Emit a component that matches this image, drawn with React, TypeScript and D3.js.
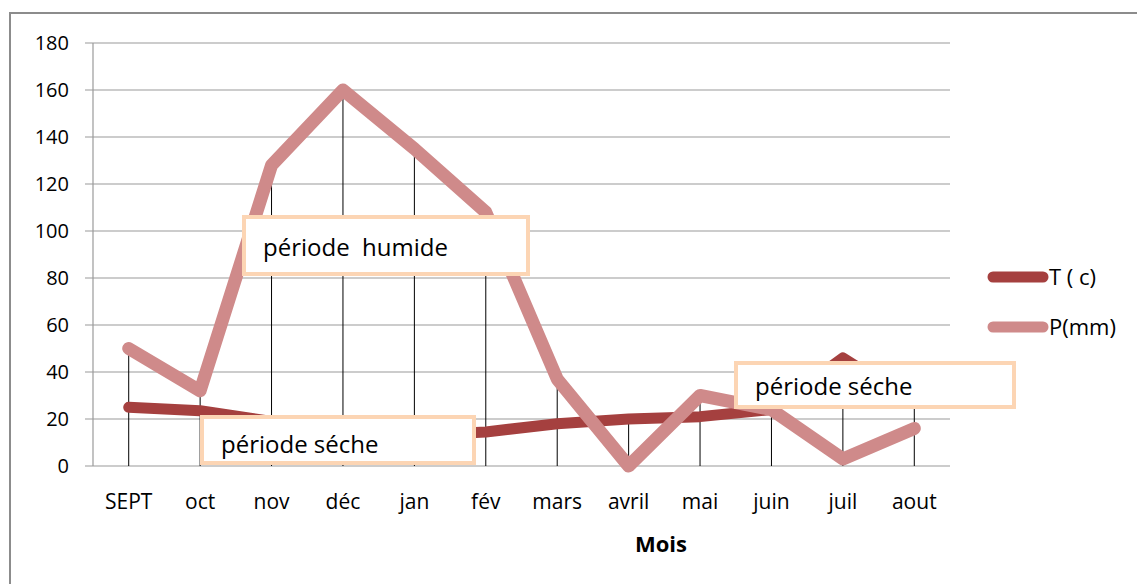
import React from "react";
import * as d3 from "d3";

const months = ["SEPT", "oct", "nov", "déc", "jan", "fév", "mars", "avril", "mai", "juin", "juil", "aout"];
const tempValues = [25, 23.5, 19, 15, 13, 14.5, 18, 20, 21, 24, 46, 27];
const precipValues = [50, 32, 128, 160, 135, 108, 37, 0, 30, 24, 3, 16];
const yTicks = [0, 20, 40, 60, 80, 100, 120, 140, 160, 180];
const seriesNames = ["T ( c)", "P(mm)"];
const annotations = [
  { text: "période  humide", month: "nov", value: 100 },
  { text: "période séche", month: "oct", value: 20 },
  { text: "période séche", month: "mai", value: 40 },
];

const W = 1137;
const H = 584;
const FONT = "'Open Sans', 'Liberation Sans', sans-serif";
const T_COLOR = "#A5403F";
const P_COLOR = "#CF8A8A";
const BOX_COLOR = "#FCD5B4";

export default function App() {
  const left = 93;
  const right = 950;
  const top = 43;
  const bottom = 466;

  const x = d3.scaleBand<string>().domain(months).range([left, right]);
  const y = d3.scaleLinear().domain([0, 180]).range([bottom, top]);
  const cx = (m: string) => (x(m) as number) + x.bandwidth() / 2;

  const line = d3
    .line<number>()
    .x((_, i) => cx(months[i]))
    .y((d) => y(d));

  const boxes = [
    { x0: 244, y0: 217, w: 284, h: 57, tx: 263, ty: 256 },
    { x0: 202, y0: 417, w: 272, h: 46, tx: 221, ty: 453 },
    { x0: 736, y0: 363, w: 278, h: 44, tx: 755, ty: 395 },
  ];

  return (
    <svg width={W} height={H} style={{ position: "absolute", left: 0, top: 0, background: "#fff" }}>
      <rect x={10} y={13} width={W + 20} height={H + 20} fill="#fff" stroke="#8c8c8c" strokeWidth={2} />
      {/* gridlines */}
      {yTicks.map((t) => (
        <g key={t}>
          <line x1={85} x2={right} y1={y(t)} y2={y(t)} stroke="#9a9a9a" strokeWidth={1.2} />
          <text x={69} y={y(t) + 7} textAnchor="end" fontFamily={FONT} fontSize={20} fill="#000">
            {t}
          </text>
        </g>
      ))}
      <line x1={left} x2={left} y1={top} y2={bottom} stroke="#9a9a9a" strokeWidth={1.2} />
      {/* drop lines */}
      {months.map((m, i) => (
        <line
          key={m}
          x1={cx(m)}
          x2={cx(m)}
          y1={y(Math.max(tempValues[i], precipValues[i]))}
          y2={bottom}
          stroke="#000"
          strokeWidth={1}
        />
      ))}
      <path d={line(tempValues) || ""} fill="none" stroke={T_COLOR} strokeWidth={11} strokeLinecap="round" strokeLinejoin="round" />
      <path d={line(precipValues) || ""} fill="none" stroke={P_COLOR} strokeWidth={13} strokeLinecap="round" strokeLinejoin="round" />
      {/* x labels */}
      {months.map((m) => (
        <text key={m} x={cx(m)} y={509} textAnchor="middle" fontFamily={FONT} fontSize={21} fill="#000">
          {m}
        </text>
      ))}
      <text x={661} y={552} textAnchor="middle" fontFamily={FONT} fontSize={22} fontWeight="bold" fill="#000">
        Mois
      </text>
      {/* legend */}
      <line x1={993} x2={1043} y1={277} y2={277} stroke={T_COLOR} strokeWidth={11} strokeLinecap="round" />
      <text x={1049} y={285} fontFamily={FONT} fontSize={22} fill="#000">
        {seriesNames[0]}
      </text>
      <line x1={993} x2={1043} y1={327} y2={327} stroke={P_COLOR} strokeWidth={11} strokeLinecap="round" />
      <text x={1049} y={335} fontFamily={FONT} fontSize={22} fill="#000">
        {seriesNames[1]}
      </text>
      {/* annotation boxes */}
      {annotations.map((a, i) => {
        const b = boxes[i];
        return (
          <g key={i}>
            <rect x={b.x0} y={b.y0} width={b.w} height={b.h} fill="#fff" stroke={BOX_COLOR} strokeWidth={4} />
            <text x={b.tx} y={b.ty} fontFamily={FONT} fontSize={24} fill="#000" xmlSpace="preserve">
              {a.text}
            </text>
          </g>
        );
      })}
    </svg>
  );
}
